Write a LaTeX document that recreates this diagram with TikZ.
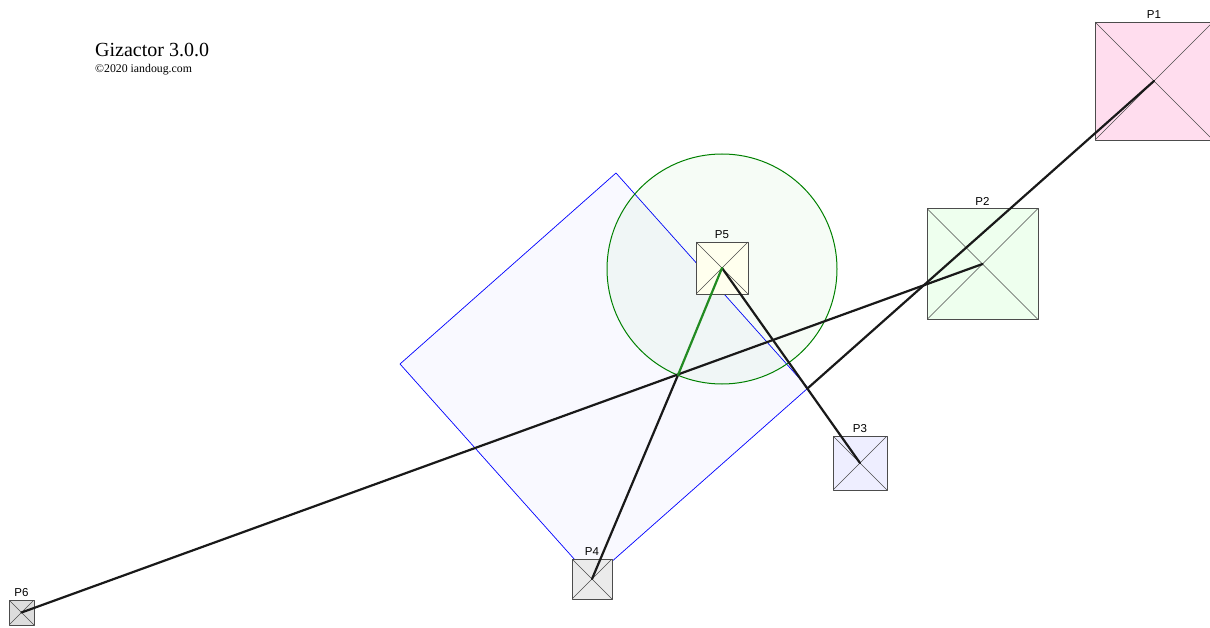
\documentclass[tikz,border=0pt]{standalone}
\usepackage{fontspec}
\setmainfont{Liberation Serif}
\setsansfont{Liberation Sans}

\definecolor{pinkfill}{HTML}{FFDDEE}
\definecolor{greenfill}{HTML}{EEFFEE}
\definecolor{bluefill}{HTML}{EEEEFF}
\definecolor{greyfill}{HTML}{EBEBEB}
\definecolor{yellowfill}{HTML}{FFFFEE}
\definecolor{darkfill}{HTML}{DDDDDD}
\definecolor{zonefill}{HTML}{F9F9FF}
\definecolor{ringgreen}{HTML}{008000}
\definecolor{wiregreen}{HTML}{228B22}

\tikzset{
  pbox/.style={draw=black!70, line width=0.8pt, inner sep=0pt, minimum size=#1,
    path picture={\draw[line width=0.6pt, black!70]
      (path picture bounding box.north west) -- (path picture bounding box.south east)
      (path picture bounding box.north east) -- (path picture bounding box.south west);}},
  plabel/.style={font=\sffamily\fontsize{11.5}{13}\selectfont, inner sep=0.5pt},
  wire/.style={line width=2.2pt, black!90},
}

\begin{document}
\begin{tikzpicture}[x=1pt, y=-1pt, line cap=round, line join=round, label distance=2pt]

  %% ════ title ════
  \node[anchor=base west, inner sep=0pt, font=\fontsize{20}{23}\selectfont] (title) at (95,57) {Gizactor 3.0.0};
  \node[anchor=base west, inner sep=0pt, font=\fontsize{11.8}{14}\selectfont] (credit) at (95,73) {\textcopyright2020 iandoug.com};

  %% ════ zone (rotated square) + ring ════
  \coordinate (sqT) at (616,173);
  \coordinate (sqR) at (808,388);
  \coordinate (sqL) at (400,364);
  \coordinate (sqB) at (592,579);
  \draw[blue, line width=0.7pt, fill=zonefill] (sqT) -- (sqR) -- (sqB) -- (sqL) -- cycle;
  \node[circle, draw=ringgreen, line width=1pt, fill=green!70!black, fill opacity=0.035, draw opacity=1, minimum size=230pt, inner sep=0pt] (ring) at (722,269) {};

  %% ════ boxes ════
  \node[pbox=118pt, fill=pinkfill,   label={[plabel]above:P1}] (p1) at (1154,81) {};
  \node[pbox=111pt, fill=greenfill,  label={[plabel]above:P2}] (p2) at (982.5,264) {};
  \node[pbox=54pt,  fill=bluefill,   label={[plabel]above:P3}] (p3) at (860,463) {};
  \node[pbox=40pt,  fill=greyfill,   label={[plabel]above:P4}] (p4) at (592,579) {};
  \node[pbox=52pt,  fill=yellowfill, label={[plabel]above:P5}] (p5) at (722,268) {};
  \node[pbox=25pt,  fill=darkfill,   label={[plabel]above:P6}] (p6) at (21.5,612.5) {};

  %% ════ wires ════
  \coordinate (cross) at (678,375);
  \draw[wire] (p1.center) -- (sqR);
  \draw[wire] (p2.center) -- (p6.center);
  \draw[wire] (p5.center) -- (p3.center);
  \draw[wire] (p4.center) -- (cross);
  \draw[wire, wiregreen] (cross) -- (p5.center);

  \pgfresetboundingbox
  \path[use as bounding box] (0,0) rectangle (1210,628);
\end{tikzpicture}
\end{document}
